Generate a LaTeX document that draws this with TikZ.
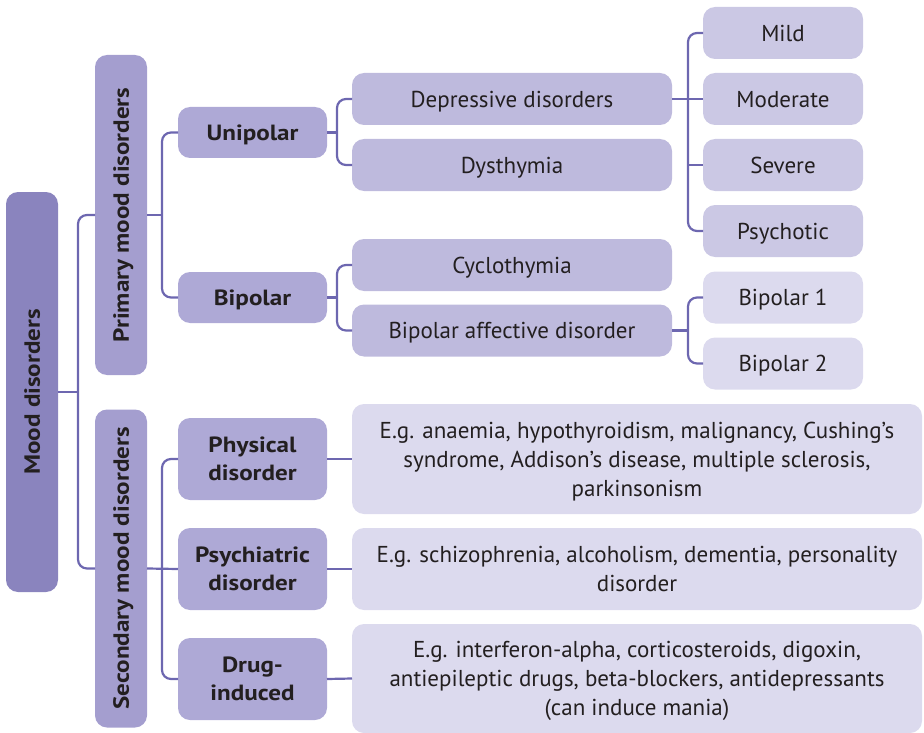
\documentclass[tikz,border=0pt]{standalone}
\usepackage{fontspec}
\setmainfont{PT Sans}[BoldFeatures={FakeStretch=1.14}]
\usetikzlibrary{calc}
\definecolor{cMood}{HTML}{8A84BE}
\definecolor{cLvl1}{HTML}{A49ECF}
\definecolor{cLvl2}{HTML}{AEA9D6}
\definecolor{cLvl3}{HTML}{BEBADD}
\definecolor{cLvl4}{HTML}{CBC8E4}
\definecolor{cLvl5}{HTML}{DCDAEE}
\definecolor{cLine}{HTML}{6D67B0}
\definecolor{txt}{HTML}{231F20}
\begin{document}
\begin{tikzpicture}[x=1pt,y=-1pt,
  base/.style={rounded corners=12pt, inner sep=0pt, outer sep=0pt, text=txt,
    font=\fontsize{23}{29}\selectfont, align=center, text depth=-3pt},
  vbox/.style={base, rotate=90, minimum height=52pt, font=\fontsize{22}{29}\selectfont\bfseries},
  boldbox/.style={base, fill=cLvl2, minimum width=149pt, font=\fontsize{22}{28}\selectfont\bfseries},
  midbox/.style={base, fill=cLvl3, minimum width=320pt, minimum height=52pt},
  leafbox/.style={base, fill=cLvl4, minimum width=160pt, minimum height=52pt},
  lightleaf/.style={base, fill=cLvl5, minimum width=160pt, minimum height=52pt},
  exbox/.style={base, fill=cLvl5, minimum width=570pt},
  conn/.style={draw=cLine, line width=2.2pt, rounded corners=9pt}
]
\useasboundingbox (0,0) rectangle (924,733);

% level 0/1
\node[vbox, fill=cMood, minimum width=400pt] (mood) at (32,392) {Mood disorders};
\node[vbox, fill=cLvl1, minimum width=320pt] (prim) at (121,215) {Primary mood disorders};
\node[vbox, fill=cLvl1, minimum width=318pt] (sec) at (121,568.5) {Secondary mood disorders};

% level 2
\node[boldbox, minimum height=51pt] (uni) at (252.5,132.5) {Unipolar};
\node[boldbox, minimum height=51pt] (bip) at (252.5,297.5) {Bipolar};
\node[boldbox, minimum height=82pt] (phys) at (252.5,459) {Physical\\disorder};
\node[boldbox, minimum height=82pt] (psyc) at (252.5,569) {Psychiatric\\disorder};
\node[boldbox, minimum height=82pt] (drug) at (252.5,679) {Drug-\\induced};

% level 3
\node[midbox] (dep) at (512,99) {Depressive disorders};
\node[midbox] (dys) at (512,165) {Dysthymia};
\node[midbox] (cyc) at (512,265) {Cyclothymia};
\node[midbox] (bad) at (512,330.5) {Bipolar affective disorder};

% leaves
\node[leafbox] (mild) at (783,33) {Mild};
\node[leafbox] (mod) at (783,99) {Moderate};
\node[leafbox] (sev) at (783,165) {Severe};
\node[leafbox] (psy) at (783,231) {Psychotic};
\node[lightleaf] (bpa) at (783,297.5) {Bipolar 1};
\node[lightleaf] (bpb) at (783,363.5) {Bipolar 2};

% examples
\node[exbox, minimum height=110pt] (ex1) at (637,459) {E.g. anaemia, hypothyroidism, malignancy, Cushing’s\\syndrome, Addison’s disease, multiple sclerosis,\\parkinsonism};
\node[exbox, minimum height=82pt] (ex2) at (637,569) {E.g. schizophrenia, alcoholism, dementia, personality\\disorder};
\node[exbox, minimum height=109pt] (ex3) at (637,678.5) {E.g. interferon-alpha, corticosteroids, digoxin,\\antiepileptic drugs, beta-blockers, antidepressants\\(can induce mania)};

% junction coordinates
\coordinate (j0) at (78,392);
\coordinate (j1) at (162,215);
\coordinate (j2) at (162,568.5);
\coordinate (j3) at (337,132.5);
\coordinate (j4) at (337,297.5);
\coordinate (j5) at (688,99);
\coordinate (j6) at (688,330.5);

% connectors
\draw[conn] (prim.north) -| (j0) |- (sec.north);
\draw[conn] (mood.south) -- (j0);

\draw[conn] (uni.west) -| (j1) |- (bip.west);
\draw[conn] (prim.south) -- (j1);

\draw[conn] (phys.west) -| (j2) |- (drug.west);
\draw[conn] (sec.south) -- (psyc.west);

\draw[conn] (dep.west) -| (j3) |- (dys.west);
\draw[conn] (uni.east) -- (j3);

\draw[conn] (cyc.west) -| (j4) |- (bad.west);
\draw[conn] (bip.east) -- (j4);

\draw[conn] (mild.west) -| (j5) |- (psy.west);
\draw[conn] (dep.east) -- (mod.west);
\draw[conn] (j5 |- sev.west) -- (sev.west);

\draw[conn] (bpa.west) -| (j6) |- (bpb.west);
\draw[conn] (bad.east) -- (j6);

\draw[conn] (phys.east) -- (ex1.west);
\draw[conn] (psyc.east) -- (ex2.west);
\draw[conn] (drug.east) -- (ex3.west);
\end{tikzpicture}
\end{document}
